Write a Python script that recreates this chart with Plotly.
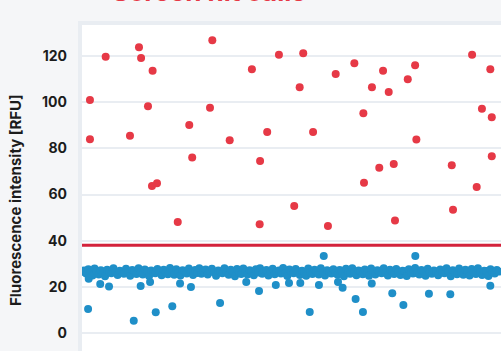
import plotly.graph_objects as go

# ---- data ----
threshold = 38
y_ticks = [0, 20, 40, 60, 80, 100, 120]

# negative wells: dense baseline band (sample index = position in list)
band_values = [
    26.5, 27.1, 25.8, 27.6, 26.2, 24.9, 27.9, 26.8, 25.4, 27.2, 26.0, 24.6, 27.4, 26.7, 25.9, 28.1, 26.3, 25.1, 27.0, 26.6,
    25.7, 27.8, 26.4, 24.8, 27.3, 26.9, 25.6, 28.0, 26.1, 25.3, 27.5, 26.8, 24.7, 27.1, 26.2, 25.9, 27.7, 26.5, 25.0, 27.4,
    26.3, 25.5, 28.2, 26.9, 25.2, 27.6, 26.1, 24.9, 27.2, 26.7, 25.8, 27.9, 26.4, 25.1, 27.3, 26.0, 28.1, 25.7, 26.8, 27.5,
    25.4, 26.9, 27.8, 26.2, 24.8, 27.1, 26.6, 25.9, 28.0, 26.3, 25.2, 27.4, 26.8, 24.6, 27.7, 26.1, 25.6, 27.9, 26.5, 25.3,
    27.2, 26.7, 25.0, 27.6, 26.2, 28.1, 25.7, 26.9, 27.3, 24.9, 26.4, 27.8, 25.5, 26.6, 27.1, 25.8, 28.2, 26.0, 24.7, 27.5,
    26.3, 25.9, 27.7, 26.8, 25.1, 27.0, 26.5, 24.8, 27.9, 26.2, 25.6, 27.4, 26.7, 25.3, 28.0, 26.1, 24.9, 27.2, 26.6, 25.8,
    27.6, 26.0, 25.2, 27.3, 26.9, 24.6, 27.8, 26.4, 25.7, 28.1, 26.3, 25.0, 27.1, 26.8, 25.5, 27.5, 26.2, 24.8, 27.9, 26.6,
    25.4, 27.2, 26.7, 25.9, 28.0, 26.1, 24.9, 27.4, 26.5, 25.6, 27.7, 26.3, 25.1, 27.0, 26.8, 24.7, 27.6, 26.2, 25.8, 28.2,
    26.0, 25.3, 27.3, 26.9, 24.8, 27.8, 26.4, 25.7, 27.1, 26.6, 25.0, 27.5, 26.3, 25.9, 28.1, 26.7, 24.6, 27.2, 26.1, 25.5,
    27.9, 26.5, 25.2, 27.4, 26.8, 24.9, 27.7, 26.2, 25.6, 28.0, 26.4, 25.1, 27.0, 26.9, 24.7, 27.6, 26.3, 25.8, 27.3, 26.6,
]

# negative wells: low-side / scattered values
neg_sample = [2.9, 3.2, 8.7, 12.9, 24.7, 28.0, 32.5, 35.2, 43.1, 46.8, 52.0, 65.9, 78.4, 84.5, 92.5, 98.8,
              104.2, 108.7, 113.1, 115.4, 122.2, 124.4, 130.6, 134.1, 138.3, 148.1, 153.4, 159.1, 165.6, 175.8, 194.9]
neg_value = [10.4, 23.5, 21.2, 20.1, 5.3, 20.4, 22.1, 9.0, 11.6, 21.5, 19.9, 13.0, 22.1, 18.2, 20.8, 21.7,
             21.7, 9.1, 20.8, 33.4, 22.1, 19.6, 14.7, 9.1, 21.4, 17.2, 12.1, 33.4, 17.0, 16.8, 20.5]

# positive wells (above threshold)
pos_sample = [3.8, 3.8, 11.3, 22.9, 27.2, 28.2, 31.5, 33.7, 33.4, 35.8, 45.7, 51.2, 52.6, 61.1, 62.2, 70.5,
              81.1, 84.8, 85.0, 88.4, 94.0, 101.3, 103.9, 105.6, 110.3, 117.4, 121.1, 130.0, 134.3, 134.6, 138.4,
              141.9, 143.7, 146.4, 148.8, 149.4, 155.5, 159.0, 159.6, 176.5, 177.1, 186.2, 188.4, 190.9, 194.9,
              195.6, 195.6]
pos_value = [101.0, 83.9, 119.7, 85.5, 123.8, 119.2, 98.2, 113.6, 63.7, 64.9, 48.1, 90.1, 76.0, 97.6, 126.8, 83.5,
             114.3, 47.1, 74.5, 87.1, 120.6, 55.0, 106.5, 121.2, 87.1, 46.4, 112.2, 116.9, 95.2, 65.1, 106.5,
             71.6, 113.6, 104.4, 73.2, 48.7, 109.9, 116.0, 83.8, 72.7, 53.4, 120.6, 63.3, 97.2, 114.3,
             93.5, 76.6]

BLUE = "#1f8fc8"
RED = "#e63946"
LINE_RED = "#d3223b"
GRID = "#e9edf2"
FONT = "Inter"

fig = go.Figure()
fig.add_trace(go.Scatter(x=list(range(len(band_values))), y=band_values, mode="markers",
                         marker=dict(color=BLUE, size=8), showlegend=False, hoverinfo="skip"))
fig.add_trace(go.Scatter(x=neg_sample, y=neg_value, mode="markers",
                         marker=dict(color=BLUE, size=8), showlegend=False))
fig.add_trace(go.Scatter(x=pos_sample, y=pos_value, mode="markers",
                         marker=dict(color=RED, size=8), showlegend=False))

W, H = 501, 351
L, T = 82, 25
pw, ph = W - L, H - T

fig.add_hline(y=threshold, line=dict(color=LINE_RED, width=3))

# plot frame band (left and top)
fig.add_shape(type="rect", xref="paper", yref="paper", x0=-4 / pw, x1=0, y0=0, y1=1 + 4 / ph,
              fillcolor=GRID, line=dict(width=0), layer="below")
fig.add_shape(type="rect", xref="paper", yref="paper", x0=-4 / pw, x1=1, y0=1, y1=1 + 4 / ph,
              fillcolor=GRID, line=dict(width=0), layer="below")

fig.add_annotation(text="<b>Fluorescence intensity [RFU]</b>", xref="paper", yref="paper",
                   x=(15 - L) / pw, y=(H - 200) / ph, xanchor="center", yanchor="middle",
                   textangle=-90, showarrow=False, font=dict(family=FONT, size=15, color="#1c1c1c"))

# title sits above the visible crop; only the lowest edge of its glyphs shows
fig.add_annotation(text="<b>Screen hit calls</b>", xref="paper", yref="paper",
                   x=(110 - L) / pw, y=1 + (T - 9.0) / ph, xanchor="left", yanchor="bottom",
                   showarrow=False, font=dict(family=FONT, size=26, color=RED))

fig.update_layout(
    width=W, height=H,
    margin=dict(l=L, r=0, t=T, b=0, pad=0),
    paper_bgcolor="#f5f6f8", plot_bgcolor="white",
    font=dict(family=FONT, color="#1c1c1c"),
    xaxis=dict(range=[0, 200], showgrid=False, zeroline=False, showticklabels=False, ticks=""),
    yaxis=dict(range=[-7.8, 133.45], tickvals=y_ticks, ticktext=[f"<b>{v}</b>" for v in y_ticks],
               showgrid=True, gridcolor=GRID, gridwidth=2, zeroline=False, ticks="",
               ticklabelstandoff=14, tickfont=dict(family=FONT, size=14, color="#1c1c1c")),
)

fig.write_html("out.html")
